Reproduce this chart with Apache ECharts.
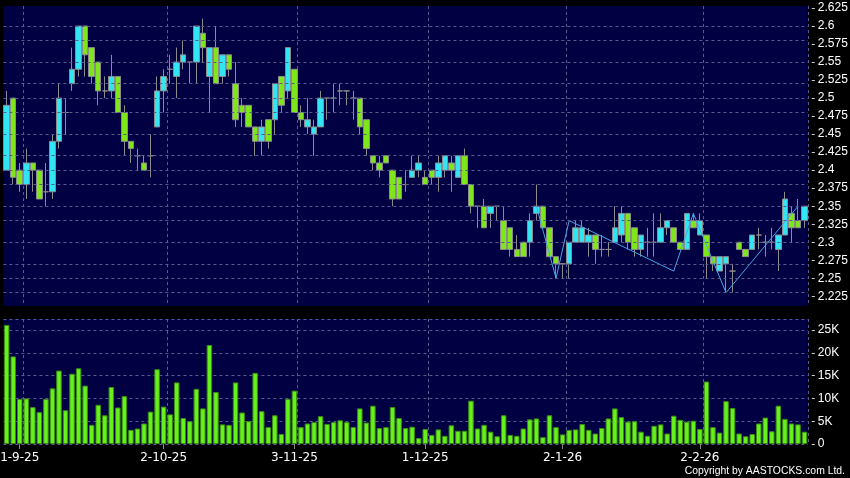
<!DOCTYPE html>
<html><head><meta charset="utf-8">
<script src="https://cdn.jsdelivr.net/npm/echarts@6/dist/echarts.min.js"></script>
<style>html,body{margin:0;padding:0;background:#000;}#c{width:850px;height:478px;}</style>
</head><body><div id="c"></div>
<script>
const categories = [
'28-8-25','29-8-25',
'1-9-25','2-9-25','3-9-25','4-9-25','5-9-25','8-9-25','9-9-25','10-9-25','11-9-25','12-9-25','15-9-25','16-9-25','17-9-25','18-9-25','19-9-25','22-9-25','23-9-25','24-9-25','25-9-25','26-9-25','29-9-25','30-9-25',
'2-10-25','3-10-25','6-10-25','8-10-25','9-10-25','10-10-25','13-10-25','14-10-25','15-10-25','16-10-25','17-10-25','20-10-25','21-10-25','22-10-25','23-10-25','24-10-25','27-10-25','28-10-25','30-10-25','31-10-25',
'3-11-25','4-11-25','5-11-25','6-11-25','7-11-25','10-11-25','11-11-25','12-11-25','13-11-25','14-11-25','17-11-25','18-11-25','19-11-25','20-11-25','21-11-25','24-11-25','25-11-25','26-11-25','27-11-25','28-11-25',
'1-12-25','2-12-25','3-12-25','4-12-25','5-12-25','8-12-25','9-12-25','10-12-25','11-12-25','12-12-25','15-12-25','16-12-25','17-12-25','18-12-25','19-12-25','22-12-25','23-12-25','24-12-25','29-12-25','30-12-25','31-12-25',
'2-1-26','5-1-26','6-1-26','7-1-26','8-1-26','9-1-26','12-1-26','13-1-26','14-1-26','15-1-26','16-1-26','19-1-26','20-1-26','21-1-26','22-1-26','23-1-26','26-1-26','27-1-26','28-1-26','29-1-26','30-1-26',
'2-2-26','3-2-26','4-2-26','5-2-26','6-2-26','9-2-26','10-2-26','11-2-26','12-2-26','13-2-26','16-2-26','20-2-26','23-2-26','24-2-26','25-2-26','26-2-26','27-2-26'
];
const tickLabels = ['1-9-25','2-10-25','3-11-25','1-12-25','2-1-26','2-2-26'];

const open = [2.40,2.50,2.40,2.38,2.41,2.40,2.37,2.37,2.44,2.48,2.52,2.54,2.60,2.57,2.55,2.51,2.51,2.53,2.48,2.44,2.42,2.41,2.42,2.46,2.51,2.54,2.53,2.55,2.55,2.55,
2.59,2.53,2.57,2.53,2.56,2.52,2.49,2.49,2.46,2.44,2.47,2.47,2.53,2.51,2.54,2.48,2.46,2.45,2.46,2.50,2.50,2.51,2.51,2.50,2.50,2.47,2.42,2.41,2.42,2.40,
2.39,2.38,2.39,2.40,2.39,2.40,2.39,2.40,2.41,2.39,2.42,2.38,2.35,2.35,2.34,2.35,2.33,2.32,2.29,2.30,2.30,2.34,2.35,2.32,2.28,2.27,2.27,2.30,2.30,2.30,
2.31,2.29,2.29,2.30,2.31,2.34,2.32,2.29,2.30,2.30,2.30,2.32,2.32,2.30,2.29,2.33,2.31,2.31,2.28,2.26,2.27,2.26,2.30,2.29,2.29,2.31,2.30,2.30,2.29,2.31,
2.34,2.33,2.33];
const close = [2.49,2.39,2.38,2.41,2.40,2.36,2.37,2.44,2.50,2.48,2.54,2.60,2.56,2.53,2.51,2.51,2.53,2.48,2.44,2.43,2.42,2.40,2.42,2.51,2.53,2.54,2.55,2.56,2.55,2.60,
2.57,2.57,2.52,2.56,2.54,2.47,2.48,2.46,2.44,2.46,2.44,2.52,2.49,2.57,2.48,2.47,2.47,2.46,2.50,2.50,2.50,2.51,2.51,2.50,2.46,2.43,2.41,2.40,2.41,2.36,
2.36,2.38,2.40,2.41,2.38,2.39,2.41,2.42,2.40,2.42,2.38,2.35,2.35,2.32,2.35,2.35,2.29,2.29,2.28,2.28,2.33,2.35,2.32,2.28,2.27,2.27,2.30,2.32,2.32,2.31,
2.29,2.29,2.29,2.32,2.34,2.30,2.29,2.31,2.30,2.30,2.32,2.33,2.30,2.29,2.34,2.32,2.33,2.28,2.27,2.28,2.28,2.26,2.29,2.28,2.31,2.31,2.30,2.30,2.31,2.36,
2.32,2.32,2.35];
const low = [2.40,2.38,2.37,2.36,2.37,2.36,2.35,2.36,2.43,2.45,2.51,2.53,2.53,2.52,2.49,2.50,2.50,2.48,2.42,2.41,2.40,2.40,2.39,2.46,2.48,2.52,2.50,2.54,2.52,2.52,
2.55,2.48,2.52,2.52,2.53,2.46,2.46,2.46,2.42,2.42,2.43,2.45,2.48,2.50,2.48,2.46,2.45,2.42,2.46,2.47,2.48,2.49,2.49,2.47,2.45,2.42,2.40,2.39,2.41,2.35,
2.36,2.37,2.39,2.39,2.38,2.38,2.37,2.39,2.37,2.39,2.38,2.34,2.32,2.32,2.32,2.33,2.29,2.28,2.28,2.28,2.28,2.33,2.32,2.28,2.25,2.25,2.25,2.30,2.30,2.28,
2.27,2.28,2.28,2.30,2.30,2.29,2.28,2.28,2.28,2.28,2.30,2.31,2.30,2.29,2.29,2.32,2.31,2.25,2.26,2.26,2.23,2.23,2.29,2.28,2.29,2.29,2.28,2.29,2.26,2.31,
2.30,2.32,2.32];
const high = [2.51,2.50,2.41,2.43,2.41,2.40,2.41,2.45,2.52,2.50,2.57,2.60,2.60,2.57,2.55,2.53,2.56,2.53,2.49,2.44,2.43,2.42,2.45,2.53,2.54,2.56,2.57,2.58,2.55,2.60,
2.61,2.57,2.60,2.56,2.56,2.55,2.50,2.49,2.46,2.47,2.47,2.52,2.53,2.57,2.54,2.49,2.50,2.47,2.51,2.50,2.52,2.52,2.51,2.51,2.50,2.47,2.42,2.42,2.42,2.40,
2.39,2.40,2.42,2.42,2.40,2.40,2.42,2.42,2.42,2.42,2.43,2.38,2.35,2.36,2.35,2.35,2.35,2.32,2.31,2.30,2.34,2.38,2.35,2.32,2.28,2.27,2.30,2.33,2.33,2.32,
2.31,2.31,2.30,2.35,2.35,2.34,2.32,2.31,2.32,2.34,2.34,2.33,2.32,2.30,2.34,2.34,2.34,2.31,2.28,2.28,2.28,2.27,2.30,2.29,2.31,2.32,2.31,2.32,2.31,2.37,
2.35,2.36,2.35];
const volume = [26100,19200,9900,10000,8100,7000,9900,12200,16100,7400,15400,16600,12800,4200,8600,6300,12500,8000,10500,3100,3400,4500,7100,16400,8200,6500,13500,5700,5000,12100,
7800,21700,11400,4300,4200,13500,6900,5000,15600,7200,3700,6300,2200,9900,11700,3700,4500,4800,6100,4400,4800,5200,4800,3700,7800,4700,8400,3500,3700,8100,
5700,3500,3800,1300,3300,2000,3200,1800,4100,2900,2900,9500,3400,4200,2700,1700,6300,2000,1800,3400,5400,5600,1500,6300,3700,2100,3100,3200,4400,3100,
2300,3500,5600,7800,5900,4900,5000,2700,1800,4000,4300,2300,6200,5300,4900,5100,3300,13700,3700,2500,9400,7900,2300,1700,2200,4500,5800,2800,8400,5500,
4500,4300,2700];
const zigzagIndex = [81,84,86,102,105,110,121];
const zigzagValue = [2.35,2.25,2.33,2.26,2.34,2.23,2.35];
const priceTicks = [2.225,2.25,2.275,2.3,2.325,2.35,2.375,2.4,2.425,2.45,2.475,2.5,2.525,2.55,2.575,2.6,2.625];
const volumeTicks = [0,5000,10000,15000,20000,25000];

const FONT = 'DejaVu Sans';
const YFONT = 'Liberation Sans';
const GRID_LINE = {color:'#5a5a8e', type:[3,3], width:1};
const candles = categories.map((_, i) => [open[i], close[i], low[i], high[i]]);
const zigzag = categories.map((_, i) => { const k = zigzagIndex.indexOf(i); return k >= 0 ? zigzagValue[k] : null; });
const isTick = (i, v) => tickLabels.includes(v);
const afterTick = (i) => i > 0 && tickLabels.includes(categories[i - 1]);

const chart = echarts.init(document.getElementById('c'), null, {renderer:'canvas'});
chart.setOption({
  animation:false,
  backgroundColor:'#000000',
  grid:[
    {left:3.4, top:6, width:804.4, height:300, show:true, backgroundColor:'#000042', borderWidth:0, containLabel:false, outerBoundsMode:'none'},
    {left:3.4, top:319, width:804.4, height:125, show:true, backgroundColor:'#000042', borderWidth:0, containLabel:false, outerBoundsMode:'none'}
  ],
  xAxis:[
    {type:'category', gridIndex:0, data:categories, boundaryGap:true,
     axisLine:{show:false}, axisTick:{show:false}, axisLabel:{show:false},
     splitLine:{show:true, interval:afterTick, lineStyle:GRID_LINE}},
    {type:'category', gridIndex:1, data:categories, boundaryGap:true,
     axisLine:{show:false},
     axisTick:{show:true, alignWithLabel:true, interval:isTick, length:5, lineStyle:{color:'#888888'}},
     axisLabel:{show:true, interval:isTick, color:'#ffffff', fontFamily:FONT, fontSize:12, margin:8},
     splitLine:{show:true, interval:afterTick, lineStyle:GRID_LINE}}
  ],
  yAxis:[
    {type:'value', gridIndex:0, position:'right', offset:4, min:2.2115, max:2.6278,
     axisLine:{show:false},
     axisTick:{show:true, customValues:priceTicks, length:3, lineStyle:{color:'#cccccc'}},
     axisLabel:{show:true, customValues:priceTicks, color:'#ffffff', fontFamily:YFONT, fontSize:12, margin:6},
     splitLine:{show:false}},
    {type:'value', gridIndex:1, position:'right', offset:4, min:0, max:27400, interval:5000,
     axisLine:{show:false},
     axisTick:{show:true, length:3, lineStyle:{color:'#cccccc'}},
     axisLabel:{show:true, color:'#ffffff', fontFamily:YFONT, fontSize:12, margin:6,
       formatter:v => v === 0 ? '0' : (v / 1000) + 'K'},
     splitLine:{show:true, lineStyle:GRID_LINE}}
  ],
  series:[
    {type:'line', xAxisIndex:0, yAxisIndex:0, data:categories.map(() => null), silent:true, z:1,
     markLine:{silent:true, symbol:'none', animation:false, label:{show:false},
       lineStyle:GRID_LINE, data:priceTicks.map(v => ({yAxis:v}))}},
    {type:'candlestick', xAxisIndex:0, yAxisIndex:0, data:candles, barWidth:6, z:3,
     itemStyle:{color:'#33e4f2', color0:'#7fe61c', borderColor:'#8c8c8c', borderColor0:'#8c8c8c', borderColorDoji:'#8c8c8c', borderWidth:1}},
    {type:'line', xAxisIndex:0, yAxisIndex:0, data:zigzag, connectNulls:true, symbol:'none', z:4,
     lineStyle:{color:'#4aa6e6', width:1}},
    {type:'bar', xAxisIndex:1, yAxisIndex:1, data:volume, barWidth:5.5, z:3,
     itemStyle:{color:'#66f01c', borderColor:'#3c8c14', borderWidth:1}}
  ],
  graphic:[
    {type:'text', right:5, bottom:2, style:{text:'Copyright by AASTOCKS.com Ltd.', fill:'#ffffff', font:'10.4px "Liberation Sans"'}}
  ]
});
</script>
</body></html>
